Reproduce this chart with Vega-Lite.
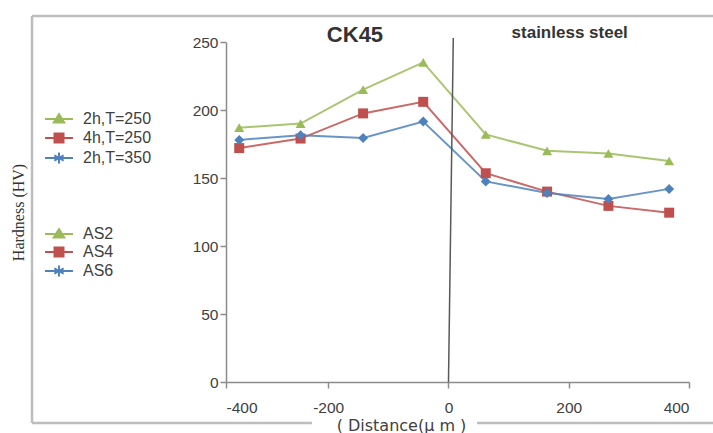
{
  "$schema": "https://vega.github.io/schema/vega-lite/v6.json",
  "width": 463,
  "height": 340,
  "autosize": {"type": "none"},
  "padding": {"left": 226, "top": 42, "right": 24, "bottom": 51},
  "background": "white",
  "config": {
    "view": {"stroke": null},
    "axis": {"grid": false, "labelFont": "Liberation Sans", "labelFontSize": 15.5, "labelColor": "#404040", "domainColor": "#8C8C8C", "tickColor": "#8C8C8C", "domainWidth": 1.5, "tickWidth": 1.5, "tickSize": 6},
    "legend": {"labelFont": "Liberation Sans", "labelFontSize": 16, "labelColor": "#404040", "padding": 0, "symbolSize": 324, "symbolStrokeWidth": 2, "labelOffset": 14, "orient": "none"}
  },
  "datasets": {
    "hv": [
      {"d": -348, "hv": 187, "sample": "AS2", "cond": "2h,T=250"},
      {"d": -246, "hv": 190, "sample": "AS2", "cond": "2h,T=250"},
      {"d": -142, "hv": 215, "sample": "AS2", "cond": "2h,T=250"},
      {"d": -42, "hv": 235, "sample": "AS2", "cond": "2h,T=250"},
      {"d": 62, "hv": 182, "sample": "AS2", "cond": "2h,T=250"},
      {"d": 164, "hv": 170, "sample": "AS2", "cond": "2h,T=250"},
      {"d": 266, "hv": 168, "sample": "AS2", "cond": "2h,T=250"},
      {"d": 367, "hv": 162.5, "sample": "AS2", "cond": "2h,T=250"},
      {"d": -348, "hv": 172, "sample": "AS4", "cond": "4h,T=250"},
      {"d": -246, "hv": 179, "sample": "AS4", "cond": "4h,T=250"},
      {"d": -142, "hv": 197.5, "sample": "AS4", "cond": "4h,T=250"},
      {"d": -42, "hv": 206, "sample": "AS4", "cond": "4h,T=250"},
      {"d": 62, "hv": 153.5, "sample": "AS4", "cond": "4h,T=250"},
      {"d": 164, "hv": 140, "sample": "AS4", "cond": "4h,T=250"},
      {"d": 266, "hv": 129.5, "sample": "AS4", "cond": "4h,T=250"},
      {"d": 367, "hv": 124.5, "sample": "AS4", "cond": "4h,T=250"},
      {"d": -348, "hv": 178, "sample": "AS6", "cond": "2h,T=350"},
      {"d": -246, "hv": 181.5, "sample": "AS6", "cond": "2h,T=350"},
      {"d": -142, "hv": 179.5, "sample": "AS6", "cond": "2h,T=350"},
      {"d": -42, "hv": 191.5, "sample": "AS6", "cond": "2h,T=350"},
      {"d": 62, "hv": 147.5, "sample": "AS6", "cond": "2h,T=350"},
      {"d": 164, "hv": 139, "sample": "AS6", "cond": "2h,T=350"},
      {"d": 266, "hv": 134.5, "sample": "AS6", "cond": "2h,T=350"},
      {"d": 367, "hv": 142, "sample": "AS6", "cond": "2h,T=350"}
    ],
    "one": [{}]
  },
  "layer": [
    {
      "data": {"name": "hv"},
      "mark": {"type": "line", "strokeWidth": 2, "opacity": 0.85},
      "encoding": {
        "x": {"field": "d", "type": "quantitative", "scale": {"domain": [-370, 400], "nice": false, "zero": false},
          "axis": {"values": [-370, -200, 0, 200, 400], "labelExpr": "datum.value < -300 ? '-400' : '' + datum.value", "labelPadding": 12,
            "encode": {"labels": {"update": {"dx": {"signal": "datum.value < -300 ? -16 : 0"}}}},
            "title": "( Distance(μ m )", "titleFont": "DejaVu Sans", "titleFontSize": 16, "titleFontWeight": "normal", "titleColor": "#404040",
            "titleX": 175, "titleY": 43, "titleAlign": "center", "titleBaseline": "middle"}},
        "y": {"field": "hv", "type": "quantitative", "scale": {"domain": [0, 250], "nice": false},
          "axis": {"values": [0, 25, 50, 75, 100, 125, 150, 175, 200, 225, 250], "labelExpr": "datum.value % 50 == 0 ? '' + datum.value : ''", "labelPadding": 2,
            "title": "Hardness (HV)", "titleFont": "Liberation Serif", "titleFontSize": 16, "titleFontWeight": "normal", "titleColor": "#333333",
            "titleX": -208, "titleY": 170, "titleAngle": 270, "titleAlign": "center", "titleBaseline": "middle"}},
        "color": {"field": "sample", "type": "nominal", "scale": {"domain": ["AS2", "AS4", "AS6"], "range": ["#9BBB59", "#C0504D", "#4F81BD"]}, "legend": null}
      }
    },
    {
      "data": {"name": "hv"},
      "mark": {"type": "point", "filled": true, "opacity": 1, "size": 100},
      "encoding": {
        "x": {"field": "d", "type": "quantitative"},
        "y": {"field": "hv", "type": "quantitative"},
        "color": {"field": "sample", "type": "nominal", "scale": {"domain": ["AS2", "AS4", "AS6"], "range": ["#9BBB59", "#C0504D", "#4F81BD"]}, "legend": null},
        "shape": {"field": "sample", "type": "nominal", "scale": {"domain": ["AS2", "AS4", "AS6"], "range": ["triangle-up", "square", "diamond"]}, "legend": null}
      }
    },
    {
      "data": {"name": "one"},
      "mark": {"type": "rule", "color": "#595959", "strokeWidth": 1.5},
      "encoding": {
        "x": {"datum": 0, "type": "quantitative"},
        "x2": {"datum": 8},
        "y": {"datum": 0, "type": "quantitative"},
        "y2": {"datum": 253}
      }
    },
    {
      "data": {"name": "one"},
      "mark": {"type": "rule", "color": "#BDBDBD", "strokeWidth": 2.5},
      "encoding": {
        "x": {"datum": -692.6, "type": "quantitative"},
        "y": {"datum": -30.1, "type": "quantitative"},
        "y2": {"datum": 269.1}
      }
    },
    {
      "data": {"name": "one"},
      "mark": {"type": "rule", "color": "#BDBDBD", "strokeWidth": 2.5},
      "encoding": {
        "x": {"datum": -692.6, "type": "quantitative"},
        "x2": {"datum": 440},
        "y": {"datum": 269.1, "type": "quantitative"}
      }
    },
    {
      "data": {"name": "one"},
      "mark": {"type": "rule", "color": "#BDBDBD", "strokeWidth": 2.5},
      "encoding": {
        "x": {"datum": -692.6, "type": "quantitative"},
        "x2": {"datum": -227},
        "y": {"datum": -30.1, "type": "quantitative"}
      }
    },
    {
      "data": {"name": "one"},
      "mark": {"type": "rule", "color": "#BDBDBD", "strokeWidth": 2.5},
      "encoding": {
        "x": {"datum": 47.4, "type": "quantitative"},
        "x2": {"datum": 440},
        "y": {"datum": -30.1, "type": "quantitative"}
      }
    },
    {
      "data": {"name": "one"},
      "mark": {"type": "text", "text": "CK45", "font": "Liberation Sans", "fontSize": 22, "fontWeight": "bold", "color": "#333333", "baseline": "middle", "align": "center"},
      "encoding": {
        "x": {"datum": -155.5, "type": "quantitative"},
        "y": {"datum": 255, "type": "quantitative"}
      }
    },
    {
      "data": {"name": "one"},
      "mark": {"type": "text", "text": "stainless steel", "font": "Liberation Sans", "fontSize": 17, "fontWeight": "bold", "color": "#333333", "baseline": "middle", "align": "center"},
      "encoding": {
        "x": {"datum": 201.6, "type": "quantitative"},
        "y": {"datum": 256.4, "type": "quantitative"}
      }
    },
    {
      "data": {"name": "hv"},
      "mark": {"type": "point", "filled": true, "opacity": 0},
      "encoding": {
        "x": {"field": "d", "type": "quantitative"},
        "y": {"field": "hv", "type": "quantitative"},
        "fill": {"field": "cond", "type": "nominal", "scale": {"domain": ["2h,T=250", "4h,T=250", "2h,T=350"], "range": ["#9BBB59", "#C0504D", "#4F81BD"]},
          "legend": {"title": null, "orient": "none", "legendX": -177, "legendY": 67, "rowPadding": 1, "symbolOpacity": 1}},
        "stroke": {"field": "cond", "type": "nominal", "scale": {"domain": ["2h,T=250", "4h,T=250", "2h,T=350"], "range": ["#9BBB59", "#C0504D", "#4F81BD"]},
          "legend": {"title": null, "orient": "none", "legendX": -177, "legendY": 67, "rowPadding": 1, "symbolOpacity": 1}},
        "shape": {"field": "cond", "type": "nominal", "scale": {"domain": ["2h,T=250", "4h,T=250", "2h,T=350"], "range": ["M-1.55,0H1.55M0,-0.55L0.58,0.4L-0.58,0.4Z", "M-1.55,0H1.55M-0.5,-0.5H0.5V0.5H-0.5Z", "M-1.55,0H1.55M0,-0.6V0.6M-0.52,-0.3L0.52,0.3M-0.52,0.3L0.52,-0.3"]},
          "legend": {"title": null, "orient": "none", "legendX": -177, "legendY": 67, "rowPadding": 1, "symbolOpacity": 1}}
      }
    },
    {
      "data": {"name": "hv"},
      "mark": {"type": "point", "filled": true, "opacity": 0},
      "encoding": {
        "x": {"field": "d", "type": "quantitative"},
        "y": {"field": "hv", "type": "quantitative"},
        "fill": {"field": "sample", "type": "nominal", "scale": {"domain": ["AS2", "AS4", "AS6"], "range": ["#9BBB59", "#C0504D", "#4F81BD"]},
          "legend": {"title": null, "orient": "none", "legendX": -177, "legendY": 182, "rowPadding": 0, "symbolOpacity": 1}},
        "stroke": {"field": "sample", "type": "nominal", "scale": {"domain": ["AS2", "AS4", "AS6"], "range": ["#9BBB59", "#C0504D", "#4F81BD"]},
          "legend": {"title": null, "orient": "none", "legendX": -177, "legendY": 182, "rowPadding": 0, "symbolOpacity": 1}},
        "shape": {"field": "sample", "type": "nominal", "scale": {"domain": ["AS2", "AS4", "AS6"], "range": ["M-1.55,0H1.55M0,-0.55L0.58,0.4L-0.58,0.4Z", "M-1.55,0H1.55M-0.5,-0.5H0.5V0.5H-0.5Z", "M-1.55,0H1.55M0,-0.6V0.6M-0.52,-0.3L0.52,0.3M-0.52,0.3L0.52,-0.3"]},
          "legend": {"title": null, "orient": "none", "legendX": -177, "legendY": 182, "rowPadding": 0, "symbolOpacity": 1}}
      }
    }
  ],
  "resolve": {"scale": {"color": "independent", "shape": "independent", "fill": "independent", "stroke": "independent"}}
}
